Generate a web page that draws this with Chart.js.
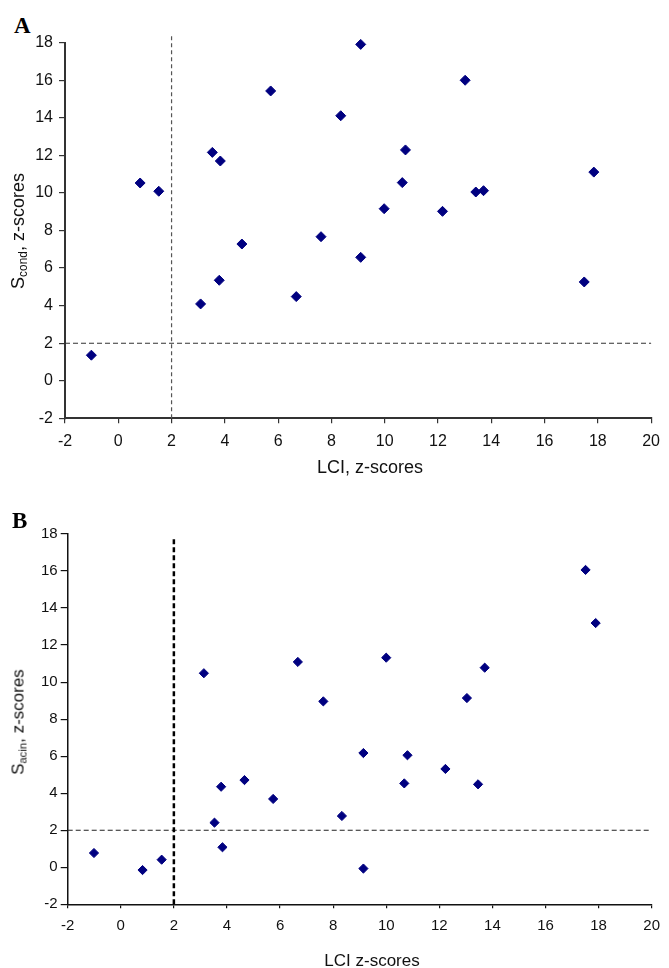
<!DOCTYPE html>
<html>
<head>
<meta charset="utf-8">
<script src="https://cdn.jsdelivr.net/npm/chart.js@4.4.1/dist/chart.umd.min.js"></script>
<style>
  body { margin: 0; background: #fff; width: 669px; height: 968px; position: relative; overflow: hidden;
         font-family: "Liberation Sans", Arial, sans-serif; color: #111; }
  canvas { position: absolute; left: 0; }
  .letter { position: absolute; font-family: "Liberation Serif", "Times New Roman", serif; font-weight: bold;
            font-size: 23px; line-height: 1; color: #000; }
  .ytitle { position: absolute; white-space: nowrap; line-height: 1; transform: translate(-50%, -50%) rotate(-90deg); }
  .ytitle .sub { font-size: 0.66em; position: relative; top: 0.28em; }
  .xtitle { position: absolute; white-space: nowrap; line-height: 1; transform: translateX(-50%); }
</style>
</head>
<body>
<div class="letter" style="left:14px; top:14px;">A</div>
<canvas id="chartA" width="669" height="480" style="top:0px;"></canvas>
<div class="ytitle" style="left:18px; top:231px; font-size:18px;">S<span class="sub">cond</span>, z-scores</div>
<div class="xtitle" style="left:370px; top:458px; font-size:18px;">LCI, z-scores</div>

<div class="letter" style="left:12px; top:509px;">B</div>
<canvas id="chartB" width="669" height="488" style="top:480px;"></canvas>
<div class="ytitle" style="left:18px; top:722px; font-size:17px;">S<span class="sub">acin</span>, z-scores</div>
<div class="xtitle" style="left:372px; top:952px; font-size:17px;">LCI z-scores</div>

<script>
// panel A: LCI vs S_cond
const lciA = [-1.01, 0.82, 1.52, 3.09, 3.53, 3.79, 3.83, 4.64, 5.72, 6.68, 7.61, 8.35, 9.10, 9.10, 9.98, 10.66, 10.78, 12.17, 13.02, 13.42, 13.71, 17.49, 17.85];
const scondA = [1.36, 10.53, 10.09, 4.09, 12.16, 5.35, 11.70, 7.28, 15.43, 4.48, 7.67, 14.11, 17.91, 6.57, 9.16, 10.55, 12.29, 9.02, 16.00, 10.05, 10.12, 5.26, 11.11];

// panel B: LCI vs S_acin
const lciB = [-1.01, 0.82, 1.54, 3.13, 3.53, 3.78, 3.83, 4.66, 5.74, 6.67, 7.63, 8.33, 9.14, 9.14, 10.00, 10.68, 10.80, 12.23, 13.04, 13.46, 13.71, 17.51, 17.89];
const sacinB = [0.77, -0.15, 0.41, 10.48, 2.41, 4.35, 1.08, 4.71, 3.69, 11.09, 8.96, 2.77, 6.17, -0.07, 11.32, 4.53, 6.05, 5.31, 9.14, 4.48, 10.78, 16.06, 13.19];

// axis ranges and the z = 2 cut-off lines
const xRange = [-2, 20];
const yRange = [-2, 18];
const tickStep = 2;
const cutoff = 2;
const cutoffTopA = 18.35;
const cutoffTopB = 17.85;

function makeChart(id, xs, ys, o) {
    const points = xs.map((x, i) => ({ x: x, y: ys[i] }));
    const ctx = document.getElementById(id).getContext('2d');
    return new Chart(ctx, {
        type: 'scatter',
        data: {
            datasets: [
                {
                    data: points,
                    clip: false,
                    pointStyle: 'rectRot',
                    pointRadius: o.radius,
                    backgroundColor: '#000080',
                    borderColor: '#000080',
                    borderWidth: 1
                },
                {
                    data: [{ x: cutoff, y: yRange[0] }, { x: cutoff, y: o.vTop }],
                    showLine: true, pointRadius: 0, clip: false,
                    borderColor: o.vColor, borderWidth: o.vWidth, borderDash: o.vDash
                },
                {
                    data: [{ x: xRange[0], y: cutoff }, { x: xRange[1], y: cutoff }],
                    showLine: true, pointRadius: 0, clip: false,
                    borderColor: o.hColor, borderWidth: 1.1, borderDash: [5, 3]
                }
            ]
        },
        options: {
            responsive: false,
            animation: false,
            layout: { padding: { left: 0, right: 9, top: o.top, bottom: 0 } },
            plugins: { legend: { display: false }, tooltip: { enabled: false } },
            scales: {
                x: {
                    type: 'linear', min: xRange[0], max: xRange[1],
                    afterFit: s => { s.height = o.xAxisH; },
                    border: { display: true, color: o.axisColor, width: o.axisWidth },
                    grid: { drawOnChartArea: false, drawTicks: true, tickLength: o.xTickLen, color: o.axisColor, lineWidth: 1.2 },
                    ticks: { stepSize: tickStep, color: '#111', padding: o.xPad, maxRotation: 0,
                             font: { family: 'Liberation Sans', size: o.tickSize } }
                },
                y: {
                    type: 'linear', min: yRange[0], max: yRange[1],
                    afterFit: s => { s.width = o.left; },
                    border: { display: true, color: o.axisColor, width: o.axisWidth },
                    grid: { drawOnChartArea: false, drawTicks: true, tickLength: o.yTickLen, color: o.axisColor, lineWidth: 1.2 },
                    ticks: { stepSize: tickStep, color: '#111', padding: o.yPad,
                             font: { family: 'Liberation Sans', size: o.tickSize } }
                }
            }
        }
    });
}

makeChart('chartA', lciA, scondA, {
    radius: 5, top: 42.7, left: 65, xAxisH: 61.7,
    axisColor: '#333', axisWidth: 2, xTickLen: 5, yTickLen: 6, xPad: 9, yPad: 6, tickSize: 16,
    vTop: cutoffTopA, vColor: '#555', vWidth: 1.2, vDash: [4, 3], hColor: '#333'
});

makeChart('chartB', lciB, sacinB, {
    radius: 4.6, top: 54, left: 67.7, xAxisH: 63.7,
    axisColor: '#111', axisWidth: 1.5, xTickLen: 4, yTickLen: 7, xPad: 9, yPad: 3, tickSize: 15,
    vTop: cutoffTopB, vColor: '#000', vWidth: 2.5, vDash: [5, 3], hColor: '#222'
});
</script>
</body>
</html>
